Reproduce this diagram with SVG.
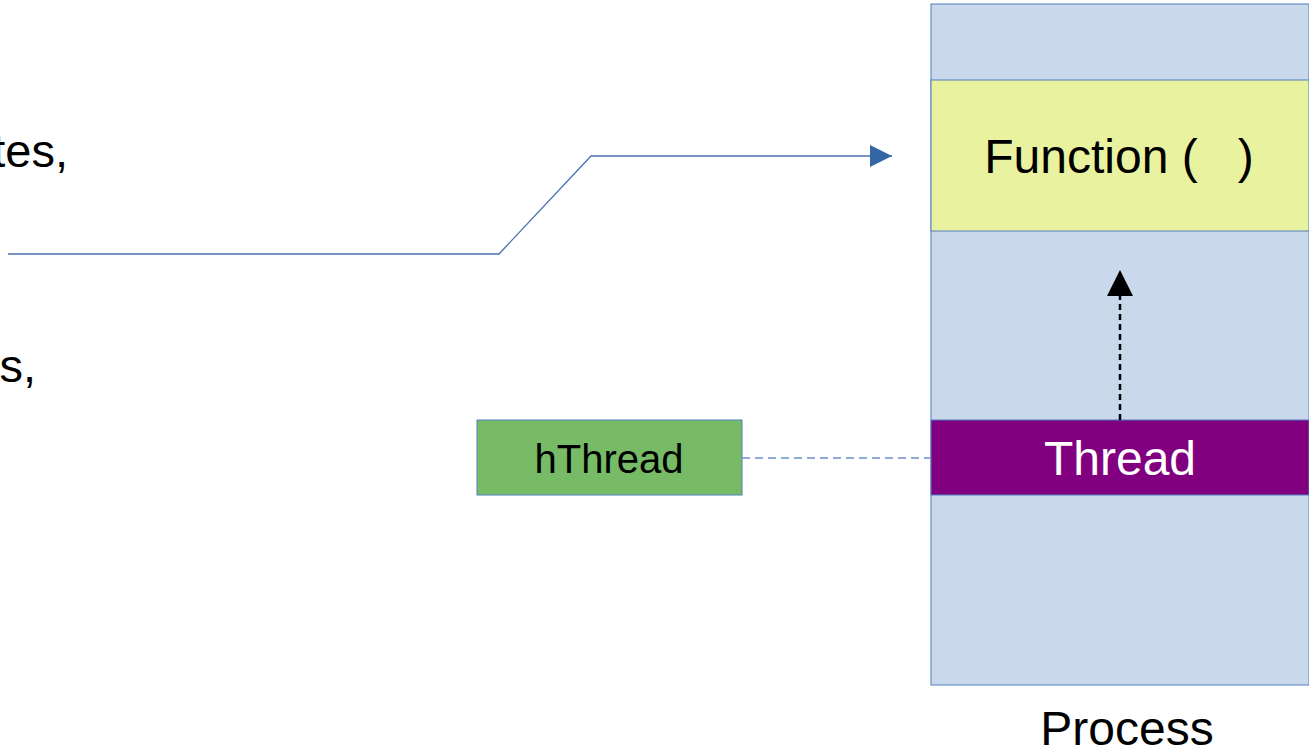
<svg xmlns="http://www.w3.org/2000/svg" width="1309" height="751" viewBox="0 0 1309 751">
<style>
text{font-family:"Liberation Sans",Arial,sans-serif;fill:#000}
.box{stroke:#4f7fbf;stroke-width:1}
.lbl{font-size:48px;text-anchor:middle}
</style>
<defs>
<marker id="blueArrow" markerWidth="22" markerHeight="22" refX="22" refY="11" orient="auto" markerUnits="userSpaceOnUse">
<path d="M0,0 L22,11 L0,22 Z" fill="#3465a4"/>
</marker>
<marker id="blackArrow" markerWidth="26" markerHeight="26" refX="26" refY="13" orient="auto" markerUnits="userSpaceOnUse">
<path d="M0,0 L26,13 L0,26 Z" fill="#000"/>
</marker>
</defs>
<rect width="1309" height="751" fill="#fff"/>
<g id="text-left">
<text x="68" y="167" font-size="47" text-anchor="end">tes,</text>
<text x="36" y="382" font-size="47" text-anchor="end">s,</text>
</g>
<g id="process">
<rect class="box" x="931" y="4" width="378" height="681" fill="#c9d9eb"/>
<text class="lbl" x="1127" y="745">Process</text>
</g>
<g id="function">
<rect class="box" x="931" y="80" width="378" height="151" fill="#e9f29f"/>
<text class="lbl" x="1119" y="173" xml:space="preserve">Function (   )</text>
</g>
<g id="thread">
<rect class="box" x="931" y="420" width="378" height="75" fill="#800080"/>
<text class="lbl" x="1120" y="475" style="fill:#fff">Thread</text>
</g>
<g id="hthread">
<rect class="box" x="477" y="420" width="265" height="75" fill="#77bb66"/>
<text x="609" y="473" font-size="40" text-anchor="middle">hThread</text>
</g>
<g id="connectors" fill="none">
<polyline points="8,254 499,254 591,156 892,156" stroke="#4a72b2" stroke-width="1.3" marker-end="url(#blueArrow)"/>
<line x1="742" y1="458" x2="931" y2="458" stroke="#6a8fc8" stroke-width="1.3" stroke-dasharray="8,5"/>
<line x1="1120" y1="420" x2="1120" y2="270" stroke="#000" stroke-width="2.5" stroke-dasharray="6,4" marker-end="url(#blackArrow)"/>
</g>
</svg>
